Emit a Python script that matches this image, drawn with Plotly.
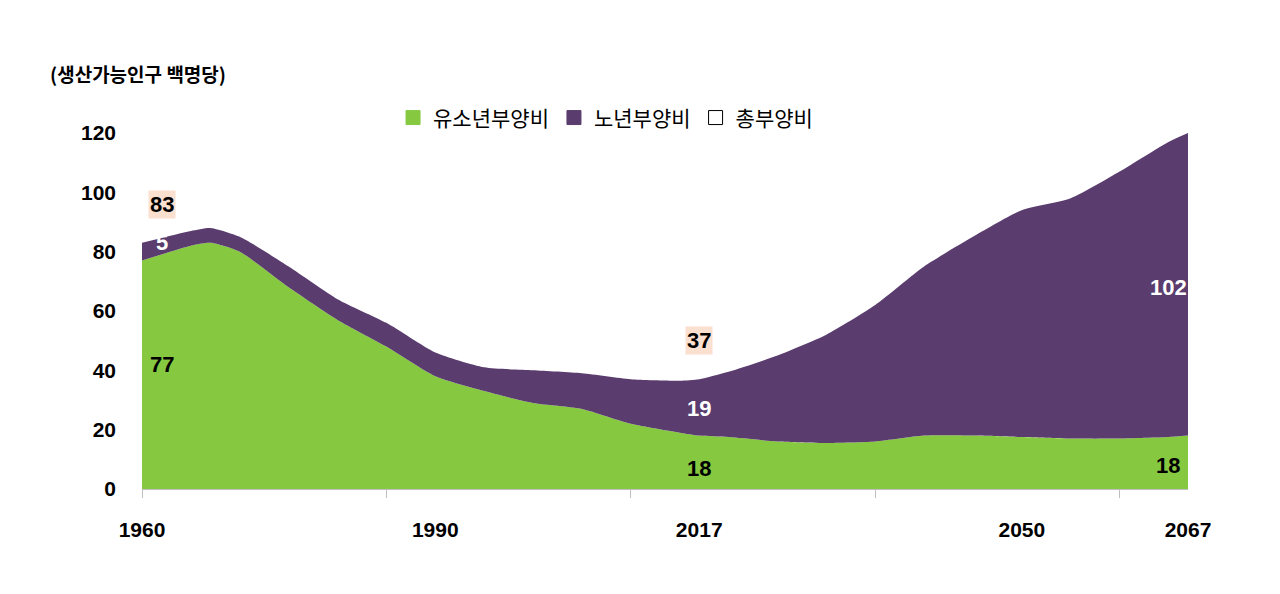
import plotly.graph_objects as go

### DATA ###
years = [1960, 1965, 1967, 1970, 1975, 1980, 1985, 1990, 1995, 2000, 2005, 2010, 2015, 2017,
         2020, 2025, 2030, 2035, 2040, 2045, 2050, 2055, 2060, 2065, 2067]
youth = [77, 82, 83, 80, 68, 57, 48, 38, 33, 29, 27, 22, 19, 18,
         17.5, 16, 15.5, 16, 18, 18, 17.5, 17, 17, 17.5, 18]
total = [83, 87, 88, 85, 75, 64, 56, 46, 41, 40, 39, 37, 36.5, 37,
         39.5, 45, 52, 62, 75, 85, 94, 98, 107, 117, 120]
old = [t - y for t, y in zip(total, youth)]

FONT = "Noto Sans CJK KR"
NUM = "Arial Narrow, Liberation Sans Narrow, Arial"

### FIGURE ###
fig = go.Figure()
fig.add_trace(go.Scatter(x=years, y=youth, stackgroup="a", showlegend=False,
                         mode="none", fillcolor="#86c940",
                         line=dict(shape="spline", smoothing=0.6)))
fig.add_trace(go.Scatter(x=years, y=old, stackgroup="a", showlegend=False,
                         mode="none", fillcolor="#5a3d6e",
                         line=dict(shape="spline", smoothing=0.6)))
# legend entries
for name, col, lc in [("유소년부양비", "#86c940", "#86c940"),
                      ("노년부양비", "#5a3d6e", "#5a3d6e"),
                      ("총부양비", "white", "black")]:
    fig.add_trace(go.Scatter(x=[None], y=[None], name=name, mode="markers",
                             marker=dict(symbol="square", size=14, color=col,
                                         line=dict(color=lc, width=1))))

bx = dict(bgcolor="#fbe0d0", font=dict(size=22, color="black", family=NUM))
notes = [(1962, 96, "83"), (2017, 50, "37"), (2065, 129, "120")]
anns = [dict(x=x, y=y, text="<b>%s</b>" % t, showarrow=False, **bx) for x, y, t in notes]
for x, y, t, c in [(1962, 42, "77", "black"), (1962, 83, "5", "white"), (2017, 27, "19", "white"),
                   (2017, 7, "18", "black"), (2065, 68, "102", "white"), (2065, 8, "18", "black")]:
    anns.append(dict(x=x, y=y, text="<b>%s</b>" % t, showarrow=False,
                     font=dict(size=22, color=c, family=NUM)))
anns.append(dict(xref="paper", yref="paper", x=-0.09, y=1.21, xanchor="left",
                 text="<b>(생산가능인구 백명당)</b>", showarrow=False,
                 font=dict(size=19, color="black", family=FONT)))

fig.update_layout(
    width=1280, height=594, plot_bgcolor="white", paper_bgcolor="white",
    margin=dict(l=134, r=100, t=125, b=113),
    font=dict(family=FONT, color="black"),
    showlegend=True,
    legend=dict(orientation="h", x=0.24, y=1.1, xanchor="left", traceorder="normal",
                font=dict(size=21, family=FONT), itemwidth=30),
    annotations=anns,
    xaxis=dict(range=[1960, 2067], tickvals=[1960, 1990, 2017, 2050, 2067],
               ticktext=["<b>%d</b>" % v for v in [1960, 1990, 2017, 2050, 2067]],
               tickfont=dict(size=21, family=NUM),
               ticks="", ticklabelstandoff=22, showgrid=False, showline=True,
               linecolor="#bfbfbf",
               minor=dict(tick0=1960, dtick=25, ticks="outside", ticklen=8, tickcolor="#bfbfbf")),
    yaxis=dict(range=[0, 120], showgrid=False, zeroline=False,
               tickvals=[0, 20, 40, 60, 80, 100, 120],
               ticktext=["<b>%d</b>" % v for v in range(0, 121, 20)],
               tickfont=dict(size=21, family=NUM),
               ticklabelstandoff=25),
)

fig.write_html("out.html")
